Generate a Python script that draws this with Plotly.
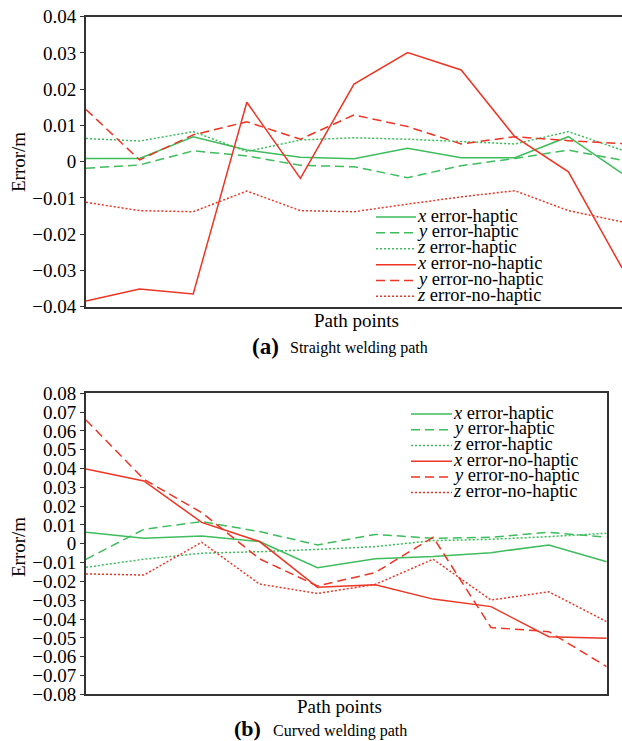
import plotly.graph_objects as go

# ---------------- data ----------------
pts_a = list(range(11))
x_hap_a = [0.0009, 0.0009, 0.0069, 0.0032, 0.0012, 0.0008, 0.0037, 0.0011, 0.0011, 0.0069, -0.0032]
y_hap_a = [-0.0018, -0.0009, 0.0030, 0.0016, -0.0010, -0.0014, -0.0044, -0.0011, 0.0009, 0.0032, 0.0004]
z_hap_a = [0.0064, 0.0057, 0.0083, 0.0028, 0.0060, 0.0066, 0.0062, 0.0055, 0.0049, 0.0083, 0.0032]
x_no_a = [-0.0384, -0.0351, -0.0365, 0.0164, -0.0046, 0.0214, 0.0301, 0.0253, 0.0069, -0.0028, -0.0293]
y_no_a = [0.0144, 0.0005, 0.0074, 0.0110, 0.0062, 0.0129, 0.0097, 0.0049, 0.0069, 0.0058, 0.0050]
z_no_a = [-0.0112, -0.0135, -0.0138, -0.0081, -0.0135, -0.0138, -0.0117, -0.0097, -0.0080, -0.0135, -0.0166]

pts_b = list(range(10))
x_hap_b = [0.0061, 0.0029, 0.0042, 0.0012, -0.0127, -0.0079, -0.0068, -0.0047, -0.0006, -0.0095]
y_hap_b = [-0.0082, 0.0077, 0.0118, 0.0065, -0.0006, 0.0050, 0.0029, 0.0035, 0.0061, 0.0035]
z_hap_b = [-0.0125, -0.0082, -0.0050, -0.0042, -0.0030, -0.0015, 0.0017, 0.0024, 0.0038, 0.0056]
x_no_b = [0.0398, 0.0334, 0.0114, 0.0012, -0.0231, -0.0218, -0.0294, -0.0334, -0.0494, -0.0502]
y_no_b = [0.0658, 0.0343, 0.0166, -0.0080, -0.0224, -0.0153, 0.0035, -0.0445, -0.0467, -0.0653]
z_no_b = [-0.0160, -0.0166, 0.0008, -0.0214, -0.0264, -0.0216, -0.0082, -0.0299, -0.0255, -0.0414]

series_names = ["<i>x</i> error-haptic", "<i>y</i> error-haptic", "<i>z</i> error-haptic",
                "<i>x</i> error-no-haptic", "<i>y</i> error-no-haptic", "<i>z</i> error-no-haptic"]
ticks_a = [-0.04, -0.03, -0.02, -0.01, 0, 0.01, 0.02, 0.03, 0.04]
ticks_b = [-0.08, -0.07, -0.06, -0.05, -0.04, -0.03, -0.02, -0.01, 0,
           0.01, 0.02, 0.03, 0.04, 0.05, 0.06, 0.07, 0.08]

# ---------------- style ----------------
W, H = 622, 741
ML = 86
PW = W - ML
GREEN = "#3dbd5c"
RED = "#ee3524"
FONT = "Liberation Serif"
colors = [GREEN, GREEN, GREEN, RED, RED, RED]
dashes = ["solid", "9px,5px", "2px,2px", "solid", "9px,5px", "2px,2px"]


def px(x):
    return (x - ML) / PW


def py(y):
    return 1 - y / H


fig = go.Figure()

data_a = [x_hap_a, y_hap_a, z_hap_a, x_no_a, y_no_a, z_no_a]
data_b = [x_hap_b, y_hap_b, z_hap_b, x_no_b, y_no_b, z_no_b]

for i, ys in enumerate(data_a):
    fig.add_trace(go.Scatter(x=pts_a, y=ys, mode="lines", name=series_names[i],
                             line=dict(color=colors[i], width=1.5, dash=dashes[i]),
                             xaxis="x", yaxis="y", showlegend=False))
for i, ys in enumerate(data_b):
    fig.add_trace(go.Scatter(x=pts_b, y=ys, mode="lines", name=series_names[i],
                             line=dict(color=colors[i], width=1.5, dash=dashes[i]),
                             xaxis="x2", yaxis="y2", showlegend=False))

axis_common = dict(showgrid=False, zeroline=False, linecolor="#333", linewidth=1.8)

fig.update_layout(
    width=W, height=H,
    margin=dict(l=ML, r=0, t=0, b=0, autoexpand=False),
    paper_bgcolor="white", plot_bgcolor="white",
    font=dict(family=FONT, size=19, color="black"),
    xaxis=dict(domain=[0, 1], range=[0, 10], showticklabels=False, ticks="",
               showline=True, mirror=True, anchor="y", automargin=False, **axis_common),
    yaxis=dict(domain=[py(306.7), py(16.7)], range=[-0.04, 0.04], tickvals=ticks_a,
               tickformat="~g", ticks="outside", ticklen=4, tickcolor="#333",
               showline=True, mirror=False, anchor="x", automargin=False,
               tickfont=dict(family=FONT, size=19), **axis_common),
    xaxis2=dict(domain=[0, px(606.7)], range=[0, 9], showticklabels=False, ticks="",
                showline=True, mirror=True, anchor="y2", automargin=False, **axis_common),
    yaxis2=dict(domain=[py(694.3), py(393.3)], range=[-0.08, 0.08], tickvals=ticks_b,
                tickformat="~g", ticks="outside", ticklen=4, tickcolor="#333",
                showline=True, mirror=True, anchor="x2", automargin=False,
                tickfont=dict(family=FONT, size=19), **axis_common),
)

annotations = []
shapes = []


def add_text(x, y, text, size, xanchor="center", angle=0):
    annotations.append(dict(x=px(x), y=py(y), xref="paper", yref="paper", text=text,
                            showarrow=False, xanchor=xanchor, yanchor="middle",
                            textangle=angle, font=dict(family=FONT, size=size, color="black")))


# axis titles
add_text(18, 162, "Error/m", 19, angle=-90)
add_text(18, 547, "Error/m", 19, angle=-90)
add_text(356.5, 320, "Path points", 19)
add_text(339.5, 706.5, "Path points", 19)
# captions
add_text(250, 346, "<b>(a)</b>", 23, xanchor="left")
add_text(288, 348, "Straight welding path", 16, xanchor="left")
add_text(232, 728.5, "<b>(b)</b>", 22, xanchor="left")
add_text(271, 731, "Curved welding path", 16, xanchor="left")


def add_legend(x0, x1, xt, rows):
    for i, yr in enumerate(rows):
        shapes.append(dict(type="line", xref="paper", yref="paper",
                           x0=px(x0), x1=px(x1), y0=py(yr + 1.5), y1=py(yr + 1.5),
                           line=dict(color=colors[i], width=1.5, dash=dashes[i])))
        add_text(xt, yr, series_names[i], 18.5, xanchor="left")


add_legend(376, 416, 415, [215.5, 231.3, 247.2, 263.2, 279.0, 294.8])
add_legend(411, 452, 451, [412.5, 428.2, 444.0, 459.8, 475.4, 491.0])

fig.update_layout(annotations=annotations, shapes=shapes)

fig.write_html("out.html", config={"displayModeBar": False},
               post_script="document.body.style.margin='0';document.body.style.overflow='hidden';")
